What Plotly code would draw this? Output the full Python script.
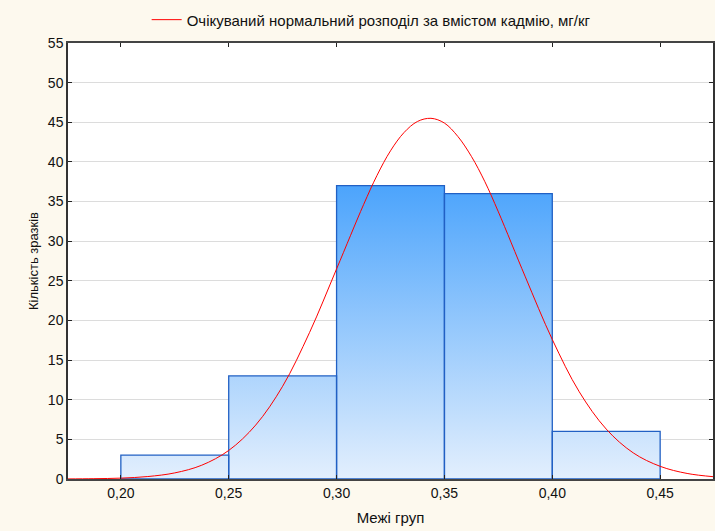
import plotly.graph_objects as go

# Histogram data
bin_edges = [0.20, 0.25, 0.30, 0.35, 0.40, 0.45]
counts = [3, 13, 37, 36, 6]

# Expected normal curve
curve_x = [0.175, 0.1875, 0.200, 0.2125, 0.225, 0.2375, 0.250, 0.2625, 0.275, 0.2875,
           0.300, 0.3125, 0.31875, 0.325, 0.33125, 0.3375, 0.34375, 0.350, 0.35625,
           0.3625, 0.36875, 0.375, 0.3875, 0.400,
           0.4125, 0.425, 0.4375, 0.450, 0.4625, 0.475]
curve_y = [0.01, 0.04, 0.11, 0.31, 0.77, 1.74, 3.6, 6.8, 11.7, 18.5,
           26.5, 34.6, 38.3, 41.4, 43.7, 45.1, 45.5, 44.9, 43.2,
           40.7, 37.5, 33.7, 25.5, 17.6,
           11.0, 6.3, 3.3, 1.6, 0.7, 0.28]

y_ticks = list(range(0, 56, 5))
x_ticks = [0.20, 0.25, 0.30, 0.35, 0.40, 0.45]

legend_name = "Очікуваний нормальний розподіл за вмістом кадмію, мг/кг"
x_title = "Межі груп"
y_title = "Кількість зразків"

# build bar rectangles from data
bx, by = [], []
for i, c in enumerate(counts):
    x0, x1 = bin_edges[i], bin_edges[i + 1]
    bx += [x0, x0, x1, x1, x0, None]
    by += [0, c, c, 0, 0, None]

fig = go.Figure()
fig.add_trace(go.Scatter(
    x=bx, y=by, mode="lines", fill="toself",
    line=dict(color="#2160c4", width=1.3),
    fillgradient=dict(type="vertical", start=0, stop=37,
                      colorscale=[[0, "#e3effd"], [1, "#4ca4fc"]]),
    showlegend=False, hoverinfo="skip",
))
fig.add_trace(go.Scatter(
    x=curve_x, y=curve_y, mode="lines", name=legend_name,
    line=dict(color="#ff0000", width=1, shape="spline"),
))

font_family = "Liberation Sans, Arial, sans-serif"
fig.update_layout(
    width=715, height=531,
    margin=dict(l=68, r=0, t=43, b=52),
    paper_bgcolor="#fdf9ee",
    plot_bgcolor="#ffffff",
    separators=", ",
    font=dict(family=font_family, size=13, color="#111111"),
    showlegend=True,
    legend=dict(orientation="h", x=0.47, xanchor="center", y=1.053, yanchor="middle",
                bgcolor="rgba(0,0,0,0)", font=dict(size=15), itemwidth=30),
    xaxis=dict(
        range=[0.1755, 0.4745], tickvals=x_ticks, tickformat=".2f",
        showgrid=False, zeroline=False,
        showline=True, linecolor="#444444", linewidth=1.5, mirror="ticks",
        ticks="inside", ticklen=4, tickcolor="#222222",
        tickfont=dict(size=14),
        title=dict(text=x_title, font=dict(size=15), standoff=13),
    ),
    yaxis=dict(
        range=[0, 55], tickvals=y_ticks,
        showgrid=True, gridcolor="#dcdcdc", gridwidth=1, zeroline=False,
        showline=True, linecolor="#333333", linewidth=1.5, mirror="ticks",
        ticks="inside", ticklen=4, tickcolor="#222222",
        tickfont=dict(size=14),
        title=dict(text=y_title, font=dict(size=13), standoff=6),
    ),
)

fig.write_html("out.html")
